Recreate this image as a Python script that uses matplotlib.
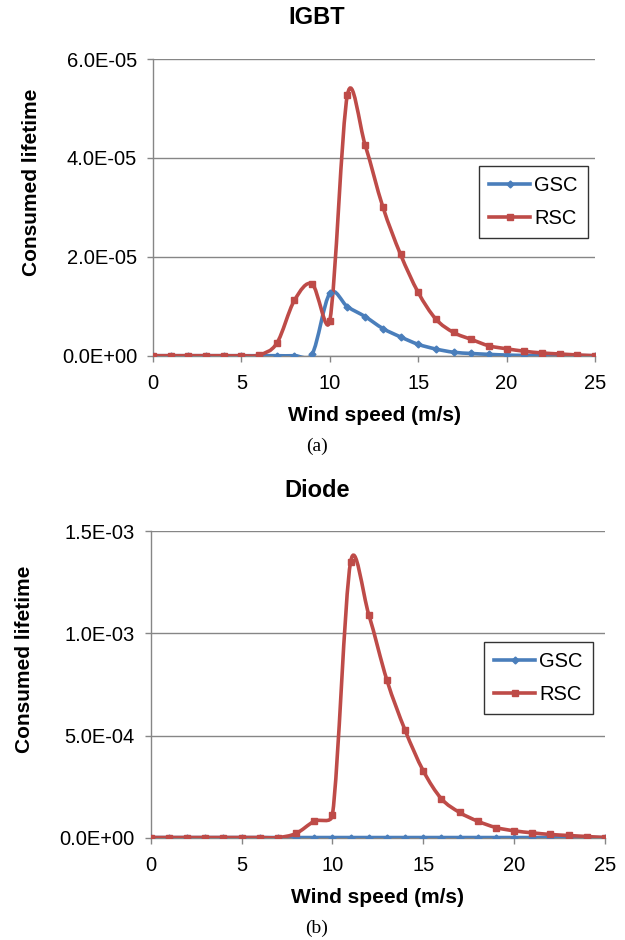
import numpy as np
import matplotlib
matplotlib.use('Agg')
import matplotlib.pyplot as plt
from matplotlib.path import Path
from matplotlib.patches import PathPatch
from matplotlib.lines import Line2D
from matplotlib.ticker import FuncFormatter

plt.rcParams['font.family'] = ['Liberation Sans', 'DejaVu Sans']

# Data
wind_speed = list(range(26))

igbt_gsc = [0, 0, 0, 0, 0, 0, 0, 0, 0, 0.3e-6,
            12.6e-6, 9.9e-6, 7.9e-6, 5.5e-6, 3.8e-6, 2.3e-6, 1.35e-6, 0.7e-6, 0.45e-6, 0.27e-6,
            0.13e-6, 0.05e-6, 0.03e-6, 0.02e-6, 0.01e-6, 0]
igbt_rsc = [0, 0, 0, 0, 0, 0, 0.15e-6, 2.5e-6, 11.2e-6, 14.5e-6,
            7.1e-6, 52.8e-6, 42.6e-6, 30.1e-6, 20.5e-6, 12.8e-6, 7.4e-6, 4.7e-6, 3.3e-6, 2.0e-6,
            1.4e-6, 0.9e-6, 0.55e-6, 0.35e-6, 0.15e-6, 0]

diode_gsc = [0] * 26
diode_rsc = [0, 0, 0, 0, 0, 0, 0, 0, 0.02e-3, 0.08e-3,
             0.11e-3, 1.35e-3, 1.093e-3, 0.771e-3, 0.526e-3, 0.327e-3, 0.19e-3, 0.123e-3, 0.08e-3, 0.049e-3,
             0.033e-3, 0.023e-3, 0.015e-3, 0.01e-3, 0.005e-3, 0]

blue = '#4A7EBB'
red = '#BE4B48'
grey = '#868686'


# Excel-style smoothed line: bezier through the points, control arms
# limited to half the segment length (measured on screen)
def smooth_path(ax, x, y, f=1/6):
    pts = np.column_stack([x, y]).astype(float)
    scr = ax.transData.transform(pts)
    n = len(pts)
    verts = [tuple(pts[0])]
    codes = [Path.MOVETO]
    for i in range(n - 1):
        a = i - 1 if i > 0 else i
        b = i + 2 if i + 2 < n else i + 1
        d12 = np.hypot(*(scr[i+1] - scr[i]))
        d02 = np.hypot(*(scr[i+1] - scr[a]))
        d13 = np.hypot(*(scr[b] - scr[i]))
        f1 = f if d02 / 6 < d12 / 2 else d12 / (2 * d02)
        f2 = f if d13 / 6 < d12 / 2 else d12 / (2 * d13)
        c1 = pts[i] + f1 * (pts[i+1] - pts[a])
        c2 = pts[i+1] - f2 * (pts[b] - pts[i])
        verts += [tuple(c1), tuple(c2), tuple(pts[i+1])]
        codes += [Path.CURVE4] * 3
    return Path(verts, codes)


def draw_series(ax, x, y, color, marker, ms):
    ax.add_patch(PathPatch(smooth_path(ax, x, y), facecolor='none', edgecolor=color,
                           lw=2.6, capstyle='round', joinstyle='round', zorder=3))
    ax.plot(x, y, linestyle='none', marker=marker, ms=ms, color=color, zorder=4)


def style_axes(ax, ymax, ystep):
    ax.set_xlim(0, 25)
    ax.set_ylim(0, ymax)
    ax.set_xticks(range(0, 26, 5))
    ax.set_yticks(np.arange(0, ymax + ystep / 2, ystep))
    ax.yaxis.set_major_formatter(FuncFormatter(lambda v, p: '%.1E' % v))
    ax.grid(axis='y', color=grey, lw=1.0)
    ax.set_axisbelow(True)
    for s in ['top', 'right']:
        ax.spines[s].set_visible(False)
    for s in ['left', 'bottom']:
        ax.spines[s].set_color(grey)
        ax.spines[s].set_linewidth(1.0)
    ax.tick_params(axis='both', direction='out', length=4.5, width=1.0, color=grey,
                   labelsize=14.5, labelcolor='black')
    ax.tick_params(axis='y', pad=7)
    ax.tick_params(axis='x', pad=9)
    ax.set_xlabel('Wind speed (m/s)', fontsize=15, fontweight='bold', labelpad=9)
    for lab in ax.get_xticklabels() + ax.get_yticklabels():
        lab.set_clip_on(False)


def add_legend(ax, loc):
    handles = [Line2D([], [], color=blue, lw=2.6, marker='D', ms=3.5),
               Line2D([], [], color=red, lw=2.6, marker='s', ms=5)]
    leg = ax.legend(handles, ['GSC', 'RSC'], loc='upper left', bbox_to_anchor=loc,
                    fontsize=14.5, frameon=True, fancybox=False, edgecolor='black',
                    handlelength=2.05, handletextpad=0.2, labelspacing=0.7,
                    borderpad=0.5, borderaxespad=0)
    leg.get_frame().set_linewidth(1.0)


fig = plt.figure(figsize=(6.25, 9.4), dpi=100)

# (a) IGBT
ax1 = fig.add_axes([0.2448, 0.6216, 0.7072, 0.3156])
style_axes(ax1, 6e-5, 2e-5)
draw_series(ax1, wind_speed, igbt_gsc, blue, 'D', 3.5)
draw_series(ax1, wind_speed, igbt_rsc, red, 's', 5)
add_legend(ax1, (0.7376, 0.639))
fig.text(0.507, 1 - 18 / 940, 'IGBT', fontsize=17, fontweight='bold', ha='center', va='center')
fig.text(32 / 625, 1 - 182 / 940, 'Consumed lifetime', fontsize=15, fontweight='bold',
         rotation=90, ha='center', va='center')
fig.text(0.507, 1 - 446 / 940, '(a)', fontsize=14, family='Liberation Serif',
         ha='center', va='center')

# (b) Diode
ax2 = fig.add_axes([0.2411, 0.1090, 0.7269, 0.3256])
style_axes(ax2, 1.5e-3, 5e-4)
draw_series(ax2, wind_speed, diode_gsc, blue, 'D', 3.5)
draw_series(ax2, wind_speed, diode_rsc, red, 's', 5)
add_legend(ax2, (0.7337, 0.640))
fig.text(0.507, 1 - 490 / 940, 'Diode', fontsize=17, fontweight='bold', ha='center', va='center')
fig.text(25 / 625, 1 - 659 / 940, 'Consumed lifetime', fontsize=15, fontweight='bold',
         rotation=90, ha='center', va='center')
fig.text(0.507, 1 - 928 / 940, '(b)', fontsize=14, family='Liberation Serif',
         ha='center', va='center')

fig.savefig('out.png', dpi=100, facecolor='white')
